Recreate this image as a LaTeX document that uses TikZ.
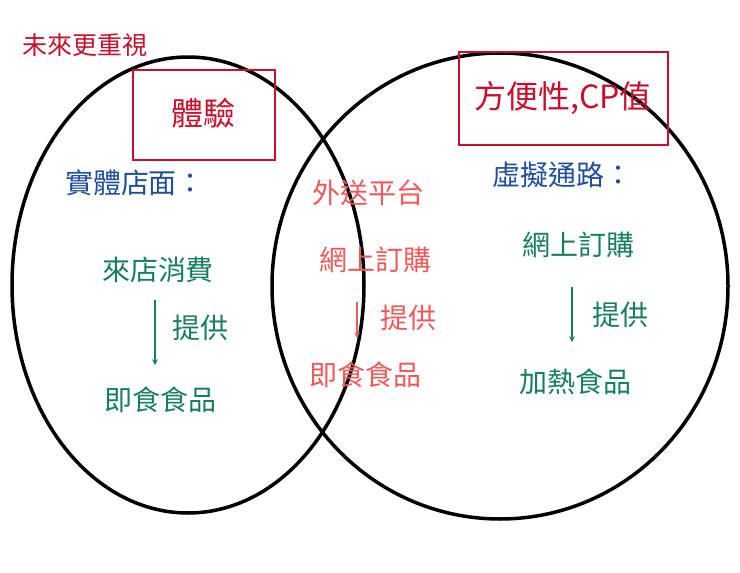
\documentclass[tikz,border=0pt]{standalone}
\usepackage{fontspec}
\setmainfont{Noto Sans CJK TC}
\definecolor{cdred}{HTML}{C8102E}
\definecolor{cblu}{HTML}{1F4E9C}
\definecolor{cgrn}{HTML}{16805A}
\definecolor{csal}{HTML}{EE5A5A}
\begin{document}
\begin{tikzpicture}[x=1pt,y=-1pt,
  dred/.style={text=cdred,font=\fontsize{28}{30}\selectfont},
  blu/.style={text=cblu,font=\fontsize{28}{30}\selectfont},
  grn/.style={text=cgrn,font=\fontsize{28}{30}\selectfont},
  sal/.style={text=csal,font=\fontsize{28}{30}\selectfont},
  arr/.style={->,line width=1.5pt,>=stealth}]
\useasboundingbox (0,0) rectangle (740,573);
\fill[white] (0,0) rectangle (740,573);
\draw[line width=3.5pt] (188,285) ellipse [x radius=176,y radius=228];
\draw[line width=3.5pt] (500,286) ellipse [x radius=228,y radius=233];
\draw[cdred,line width=1.5pt] (133,70) rectangle (275,160);
\draw[cdred,line width=1.5pt] (459,52) rectangle (668,145);
\node[dred,font=\fontsize{25}{27}\selectfont] (t0) at (85,45) {未來更重視};
\node[dred,font=\fontsize{32}{34}\selectfont] (t1) at (203,113) {體驗};
\node[dred,font=\fontsize{32}{34}\selectfont] (t2) at (563,98) {方便性,CP值};
\node[blu] (l1) at (135,183) {實體店面：};
\node[grn] (l2) at (158,270) {來店消費};
\coordinate (la) at (155,300); \coordinate (lb) at (155,365);
\draw[arr,cgrn] (la) -- (lb);
\node[grn] (l3) at (200,328) {提供};
\node[grn] (l4) at (160,400) {即食食品};
\node[sal] (m1) at (368,193) {外送平台};
\node[sal] (m2) at (375,260) {網上訂購};
\coordinate (ma) at (357,302); \coordinate (mb) at (357,338);
\draw[arr,csal] (ma) -- (mb);
\node[sal] (m3) at (408,318) {提供};
\node[sal] (m4) at (365,375) {即食食品};
\node[blu] (r1) at (562,175) {虛擬通路：};
\node[grn] (r2) at (578,245) {網上訂購};
\coordinate (ra) at (572,287); \coordinate (rb) at (572,342);
\draw[arr,cgrn] (ra) -- (rb);
\node[grn] (r3) at (620,315) {提供};
\node[grn] (r4) at (575,382) {加熱食品};
\end{tikzpicture}
\end{document}
